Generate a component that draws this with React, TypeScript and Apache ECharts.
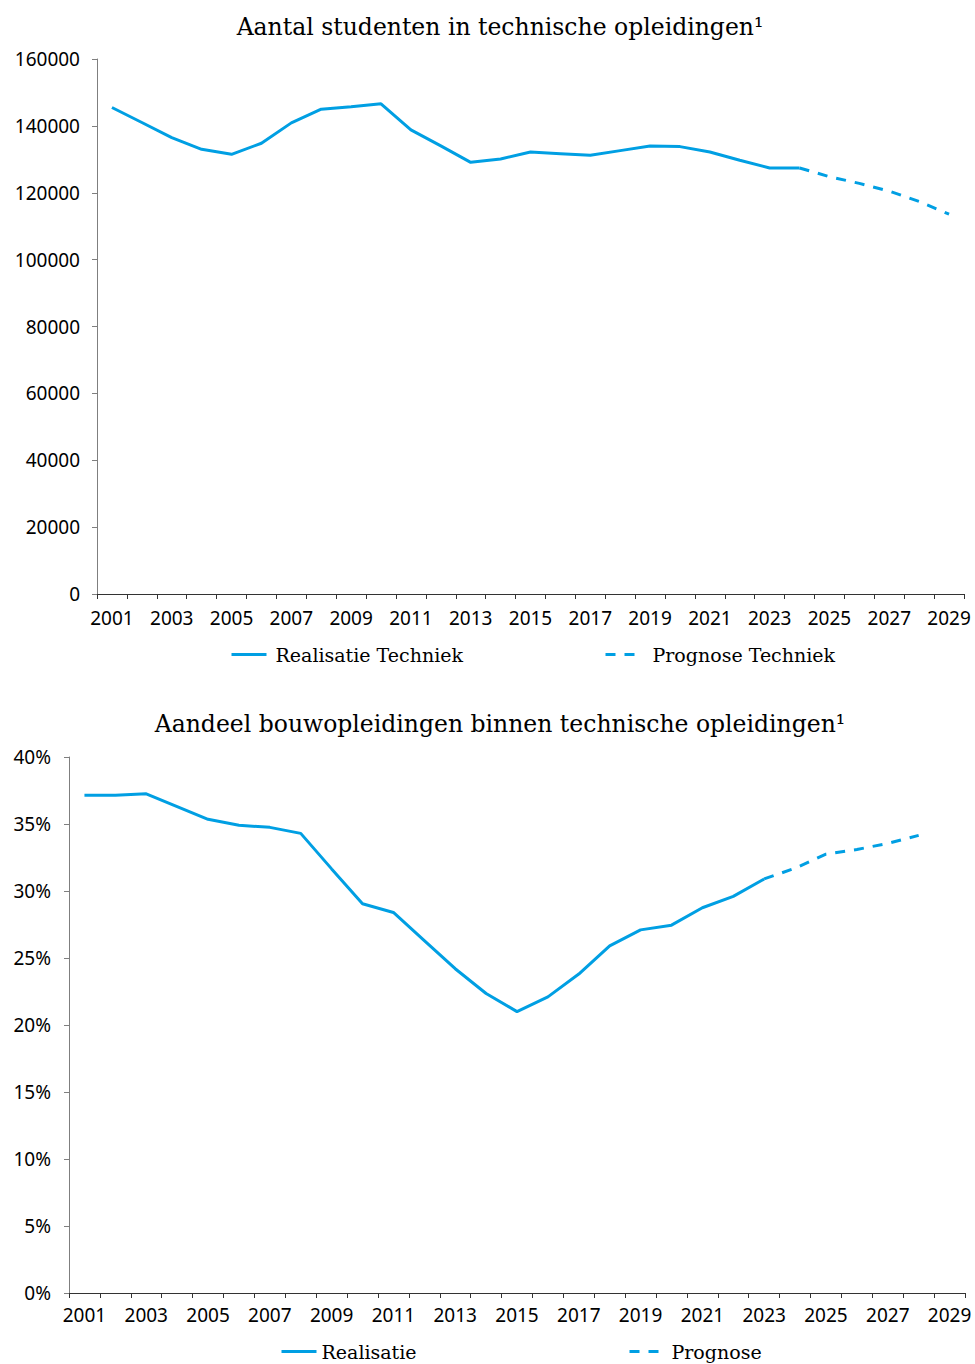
import React, { useEffect, useRef } from "react";
import * as echarts from "echarts";

const years = [
  "2001", "2002", "2003", "2004", "2005", "2006", "2007", "2008", "2009", "2010",
  "2011", "2012", "2013", "2014", "2015", "2016", "2017", "2018", "2019", "2020",
  "2021", "2022", "2023", "2024", "2025", "2026", "2027", "2028", "2029",
];

const realisatieTechniek = [
  145500, 141000, 136500, 133000, 131500, 134800, 140900, 145000, 145700, 146600,
  138800, 134000, 129100, 130100, 132200, 131700, 131200, 132600, 134000, 133800,
  132200, 129700, 127400, 127400, null, null, null, null, null,
];
const prognoseTechniek = [
  null, null, null, null, null, null, null, null, null, null,
  null, null, null, null, null, null, null, null, null, null,
  null, null, null, 127400, 124800, 122800, 120500, 117400, 113600,
];

const realisatieBouw = [
  37.15, 37.15, 37.25, 36.3, 35.35, 34.9, 34.75, 34.3, 31.65, 29.05,
  28.4, 26.3, 24.2, 22.35, 21.0, 22.1, 23.8, 25.9, 27.1, 27.45,
  28.75, 29.6, 30.9, null, null, null, null, null, null,
];
const prognoseBouw = [
  null, null, null, null, null, null, null, null, null, null,
  null, null, null, null, null, null, null, null, null, null,
  null, null, 30.9, 31.7, 32.75, 33.1, 33.55, 34.15, null,
];

const BLUE = "#009fe3";
const SERIF = "DejaVu Serif";
const SANS = "Noto Sans";

export default function App() {
  const ref = useRef<HTMLDivElement>(null);
  useEffect(() => {
    if (!ref.current) return;
    const chart = echarts.init(ref.current, null, { renderer: "svg" });
    const xAxisBase = (gridIndex: number, margin: number) => ({
      type: "category",
      gridIndex,
      data: years,
      boundaryGap: true,
      axisLine: { show: true, lineStyle: { color: "#333", width: 1 } },
      axisTick: { show: true, interval: 0, length: 5, lineStyle: { color: "#333" } },
      axisLabel: { interval: 1, margin, color: "#000", fontFamily: SANS, fontSize: 19 },
      splitLine: { show: false },
    });
    const yAxisBase = (gridIndex: number, max: number, interval: number, fmt: (v: number) => string, margin: number) => ({
      type: "value",
      gridIndex,
      min: 0,
      max,
      interval,
      axisLine: { show: true, lineStyle: { color: "#7f7f7f", width: 1 } },
      axisTick: { show: true, length: 5, lineStyle: { color: "#7f7f7f" } },
      axisLabel: { margin, color: "#000", fontFamily: SANS, fontSize: 19, formatter: fmt },
      splitLine: { show: false },
    });
    const lineSeries = (name: string, data: (number | null)[], idx: number, dashed: boolean) => ({
      name,
      type: "line",
      xAxisIndex: idx,
      yAxisIndex: idx,
      data,
      showSymbol: false,
      symbol: "none",
      connectNulls: false,
      lineStyle: { color: BLUE, width: 3, type: dashed ? [10, 9] : "solid" },
      itemStyle: { color: BLUE },
    });
    const legendItem = (name: string, left: number, top: number, gap: number) => ({
      data: [name],
      left,
      top,
      padding: 0,
      itemWidth: 35,
      itemHeight: 14,
      itemStyle: { opacity: 0 },
      lineStyle: { width: 3 },
      textStyle: { fontFamily: SERIF, fontSize: 19, color: "#000", padding: [0, 0, 0, gap] },
      selectedMode: false,
    });
    chart.setOption({
      animation: false,
      backgroundColor: "#fff",
      title: [
        {
          text: "Aantal studenten in technische opleidingen¹",
          left: 495,
          top: 10,
          textAlign: "center",
          textStyle: { fontFamily: SERIF, fontSize: 23.5, fontWeight: "normal", color: "#000" },
        },
        {
          text: "Aandeel bouwopleidingen binnen technische opleidingen¹",
          left: 495,
          top: 707,
          textAlign: "center",
          textStyle: { fontFamily: SERIF, fontSize: 23.5, fontWeight: "normal", color: "#000" },
        },
      ],
      grid: [
        { left: 97, top: 59, width: 867, height: 535 },
        { left: 69, top: 757, width: 896, height: 536 },
      ],
      xAxis: [xAxisBase(0, 14), xAxisBase(1, 12)],
      yAxis: [
        yAxisBase(0, 160000, 20000, (v: number) => String(v), 17),
        yAxisBase(1, 40, 5, (v: number) => v + "%", 18),
      ],
      legend: [
        legendItem("Realisatie Techniek", 230, 645, 4),
        legendItem("Prognose Techniek", 604, 645, 7),
        legendItem("Realisatie", 280, 1342, 0),
        legendItem("Prognose", 628, 1342, 2),
      ],
      series: [
        lineSeries("Realisatie Techniek", realisatieTechniek, 0, false),
        lineSeries("Prognose Techniek", prognoseTechniek, 0, true),
        lineSeries("Realisatie", realisatieBouw, 1, false),
        lineSeries("Prognose", prognoseBouw, 1, true),
      ],
    });
    return () => chart.dispose();
  }, []);
  return (
    <div
      ref={ref}
      style={{ position: "absolute", left: 0, top: 0, width: 975, height: 1364 }}
    />
  );
}
